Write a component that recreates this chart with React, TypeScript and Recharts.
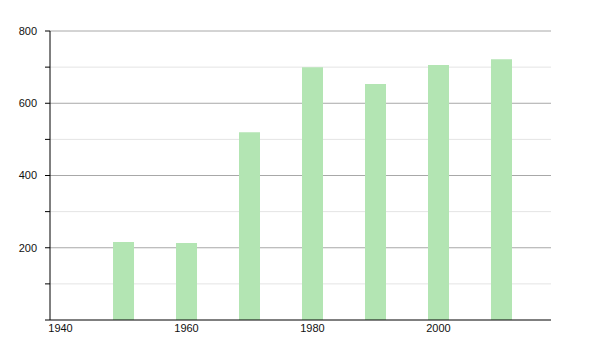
import React from "react";
import { BarChart, Bar, XAxis, YAxis, CartesianGrid } from "recharts";

const years = [1950, 1960, 1970, 1980, 1990, 2000, 2010];
const values = [216, 213, 520, 700, 653, 706, 722];
const xTicks = [1940, 1960, 1980, 2000];
const yTicks = [0, 100, 200, 300, 400, 500, 600, 700, 800];
const majorGrid = [200, 400, 600, 800];
const minorGrid = [100, 300, 500, 700];

const data = years.map((year, i) => ({ year, value: values[i] }));

const font = "'Liberation Sans', Arial, sans-serif";

const gen = (vals: number[]) => (props: any) => {
  const scale = props?.yAxis?.scale;
  if (!scale) return [];
  if (typeof scale === "function") return vals.map((v) => scale(v));
  if (typeof scale.map === "function") return vals.map((v) => scale.map(v));
  if (typeof scale.apply === "function") return vals.map((v) => scale.apply(v));
  return [];
};

export default function App() {
  return (
    <BarChart
      width={600}
      height={350}
      data={data}
      margin={{ top: 23, right: 57, left: 0, bottom: 18 }}
    >
      <CartesianGrid
        vertical={false}
        stroke="#e4e4e4"
        horizontalCoordinatesGenerator={gen(minorGrid)}
      />
      <CartesianGrid
        vertical={false}
        stroke="#a8a8a8"
        horizontalCoordinatesGenerator={gen(majorGrid)}
      />
      <XAxis
        dataKey="year"
        type="number"
        domain={[1938.33, 2017.86]}
        ticks={xTicks}
        allowDataOverflow
        tickLine={false}
        tickSize={0}
        tickMargin={4}
        axisLine={{ stroke: "#000", strokeWidth: 1 }}
        tick={{ fill: "#111", fontSize: 11, fontFamily: font }}
        height={20}
        interval={0}
      />
      <YAxis
        type="number"
        domain={[0, 800]}
        ticks={yTicks}
        width={42}
        interval={0}
        tickSize={5}
        tickMargin={8}
        tickLine={{ stroke: "#000" }}
        axisLine={{ stroke: "#000", strokeWidth: 1 }}
        tick={{ fill: "#111", fontSize: 11, fontFamily: font }}
        tickFormatter={(v: number) => (v > 0 && v % 200 === 0 ? String(v) : "")}
      />
      <Bar dataKey="value" fill="#b3e5b3" barSize={21} isAnimationActive={false} />
    </BarChart>
  );
}
